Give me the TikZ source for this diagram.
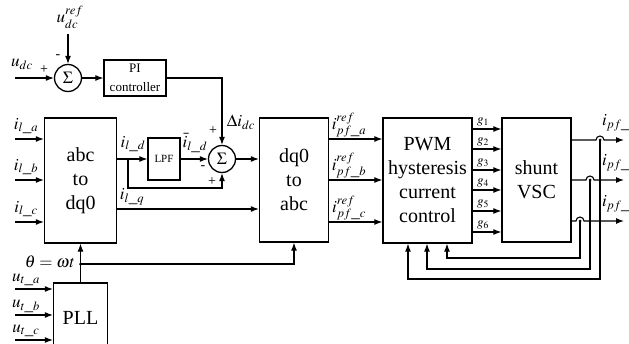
\documentclass[tikz,border=0pt]{standalone}
\usepackage{mathptmx}
\usepackage{fontspec}
\setmainfont{Liberation Serif}
\usetikzlibrary{arrows.meta}

\begin{document}
\begin{tikzpicture}[x=1pt,y=-1pt,>={Latex[length=8pt,width=6pt]},line width=1.1pt,
  block/.style={draw,line width=1.3pt,align=center,inner sep=0pt,font=\fontsize{20}{24}\selectfont},
  sumnode/.style={draw,circle,line width=1.3pt,minimum size=27pt,inner sep=0pt,font=\fontsize{17}{17}\selectfont},
  lbl/.style={font=\fontsize{17}{17}\selectfont,inner sep=0.5pt},
  sgn/.style={font=\fontsize{14}{14}\selectfont,inner sep=0pt},
  jdot/.style={fill,circle,inner sep=0pt,minimum size=3pt}]
  \useasboundingbox (0,0) rectangle (629,343);
  \clip (0,0) rectangle (629,343);

  % blocks
  \node[sumnode] (s1) at (68,78) {$\Sigma$};
  \node[block,minimum width=62pt,minimum height=36pt,font=\fontsize{13}{19}\selectfont] (pi) at (135,78) {PI\\controller};
  \node[block,minimum width=72pt,minimum height=125pt] (abc) at (80.5,180.5) {abc\\to\\dq0};
  \node[block,minimum width=32pt,minimum height=42pt,font=\fontsize{11}{11}\selectfont] (lpf) at (164,159) {LPF};
  \node[sumnode] (s2) at (222,159) {$\Sigma$};
  \node[block,minimum width=69pt,minimum height=124pt] (dq) at (294,180) {dq0\\to\\abc};
  \node[block,minimum width=89pt,minimum height=125pt] (pwm) at (427.5,180.5) {PWM\\hysteresis\\current\\control};
  \node[block,minimum width=69pt,minimum height=124pt] (vsc) at (536.5,180) {shunt\\VSC};
  \node[block,minimum width=54pt,minimum height=70pt] (pll) at (80.5,318) {PLL};

  % dc voltage loop
  \coordinate (udc) at (15,78);
  \coordinate (uref) at (68,34);
  \draw[->] (udc) -- (s1);
  \draw[->] (uref) -- (s1);
  \draw[->] (s1) -- (pi);
  \draw[->] (pi) -| (s2);
  \node[lbl] (ludc) at (22,64) {$u_{dc}$};
  \node[lbl] (luref) at (70,17) {$u_{dc}^{ref}$};
  \node[sgn] (p1) at (44,70) {+};
  \node[sgn] (m1) at (58,57) {-};
  \node[lbl] (ldi) at (241,122) {$\Delta i_{dc}$};
  \node[sgn] (p2) at (213,131) {+};
  \node[sgn] (m2) at (203,168) {-};
  \node[sgn] (p3) at (212,182) {+};

  % load currents
  \foreach \yy/\ph in {139/a,180/b,222/c}{
    \coordinate (il\ph) at (15,\yy);
    \draw[->] (il\ph) -- (il\ph -| abc.west);
    \node[lbl] (lil\ph) at (26,\yy-13) {$i_{l\_\ph}$};
  }
  \coordinate (br) at (128,159);
  \coordinate (iq) at (0,209);
  \draw (abc.east |- br) -- (br);
  \draw[->] (br) -- (lpf);
  \draw[->] (lpf) -- (s2);
  \draw[->] (br) -- ++(0,29) -| (s2);
  \draw[->] (abc.east |- iq) -- (dq.west |- iq);
  \draw[->] (s2) -- (dq.west |- s2);
  \node[lbl] (lid) at (133,144) {$i_{l\_d}$};
  \node[lbl] (libar) at (195,143) {$\bar{i}_{l\_d}$};
  \node[lbl] (liq) at (132,197) {$i_{l\_q}$};

  % reference currents
  \foreach \yy/\ph in {139/a,180/b,222/c}{
    \coordinate (ir\ph) at (0,\yy);
    \draw[->] (dq.east |- ir\ph) -- (pwm.west |- ir\ph);
    \node[lbl] (lir\ph) at (349,\yy-14) {$i_{pf\_\ph}^{ref}$};
  }

  % gate signals
  \foreach \k/\yy in {1/129,2/149,3/170,4/190,5/211,6/232}{
    \coordinate (g\k) at (0,\yy);
    \draw[->] (pwm.east |- g\k) -- (vsc.west |- g\k);
    \node[font=\fontsize{13}{13}\selectfont,inner sep=0pt] (lg\k) at (483,\yy-7) {$g_{\k}$};
  }

  % filter currents with hops
  \foreach \yy/\xh in {140/600,180/590,221/580}{
    \draw[->] (vsc.east |- 0,\yy) -- (\xh-4,\yy) arc[start angle=180,end angle=360,radius=4] -- (624,\yy);
    \node[lbl,anchor=west] (lipf\xh) at (601,\yy-17) {$i_{pf\_}$};
  }
  \coordinate (h1) at (600,140);
  \coordinate (h2) at (590,180);
  \coordinate (h3) at (580,221);
  \coordinate (fa) at (408,279);
  \coordinate (fb) at (427,269);
  \coordinate (fc) at (447,258);
  \draw[->] (h1) |- (fa) -- (fa |- pwm.south);
  \draw[->] (h2) |- (fb) -- (fb |- pwm.south);
  \draw[->] (h3) |- (fc) -- (fc |- pwm.south);
  \node[jdot] (d1) at (h1) {};
  \node[jdot] (d2) at (h2) {};
  \node[jdot] (d3) at (h3) {};

  % PLL
  \coordinate (th) at (80.5,264);
  \draw[->] (pll) -- (abc);
  \draw[->] (th) -| (dq.south);
  \node[jdot] (dth) at (th) {};
  \node[lbl,anchor=east] (lth) at (76,262) {$\theta=\omega t$};
  \foreach \yy/\ph in {289/a,315/b,340/c}{
    \coordinate (ut\ph) at (15,\yy);
    \draw[->] (ut\ph) -- (ut\ph -| pll.west);
    \node[lbl] (lut\ph) at (26,\yy-9) {$u_{t\_\ph}$};
  }
\end{tikzpicture}
\end{document}
